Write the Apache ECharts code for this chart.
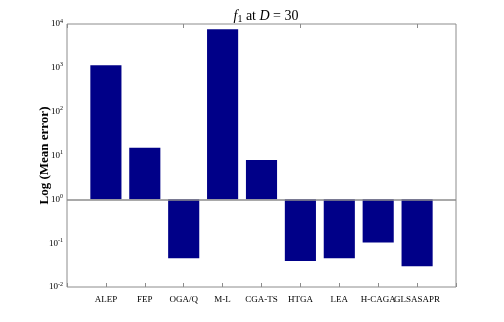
<!DOCTYPE html>
<html>
<head>
<meta charset="utf-8">
<script src="https://cdn.jsdelivr.net/npm/echarts@6/dist/echarts.min.js"></script>
<style>
  html, body { margin: 0; padding: 0; background: #fff; }
  #main { width: 504px; height: 322px; }
</style>
</head>
<body>
<div id="main"></div>
<script>
// categories, padded with an empty slot on each side (bar positions 1..9 on a 0..10 range)
var methods = ["", "ALEP", "FEP", "OGA/Q", "M-L", "CGA-TS", "HTGA", "LEA", "H-CAGA", "GLSASAPR", ""];
var meanError = ["-", 1150, 15, 0.045, 7600, 7.9, 0.039, 0.045, 0.104, 0.0296, "-"];
var decades = [0.01, 0.1, 1, 10, 100, 1000, 10000];

// minor ticks 2..9 inside each decade
var minorTicks = [];
decades.forEach(function (d, i) {
  minorTicks.push(d);
  if (i < decades.length - 1) {
    for (var k = 2; k < 10; k++) minorTicks.push(+(d * k).toPrecision(3));
  }
});

var myChart = echarts.init(document.getElementById("main"));
var serif = "Liberation Serif";
var gray = "#8c8c8c";

var option = {
  animation: false,
  title: {
    text: "{i|f}{sub|1}{t| at }{i|D}{t| = 30}",
    left: 261,
    top: 3,
    textAlign: "center",
    textStyle: {
      fontWeight: "normal",
      rich: {
        i: { fontFamily: serif, fontStyle: "italic", fontWeight: "normal", fontSize: 14, color: "#000" },
        sub: { fontFamily: serif, fontWeight: "normal", fontSize: 10, color: "#000", verticalAlign: "bottom", padding: [6, 0, 0, 0] },
        t: { fontFamily: serif, fontWeight: "normal", fontSize: 14, color: "#000" }
      }
    }
  },
  grid: { left: 67, right: 48, top: 24, bottom: 35, show: true, borderColor: gray, borderWidth: 1 },
  xAxis: [
    {
      type: "category",
      data: methods,
      boundaryGap: false,
      position: "bottom",
      axisLine: { show: false },
      axisTick: { inside: true, length: 4, lineStyle: { color: gray } },
      axisLabel: { fontFamily: serif, fontSize: 9, color: "#000", margin: 8, interval: 0 }
    },
    {
      type: "category",
      data: methods,
      boundaryGap: false,
      position: "top",
      axisLine: { show: false },
      axisTick: { inside: true, length: 4, lineStyle: { color: gray } },
      axisLabel: { show: false }
    }
  ],
  yAxis: [
    {
      type: "log",
      logBase: 10,
      min: 0.01,
      max: 10000,
      splitNumber: 6,
      position: "left",
      name: "Log (Mean error)",
      nameLocation: "middle",
      nameGap: 16,
      nameMoveOverlap: false,
      nameTextStyle: { fontFamily: serif, fontWeight: "bold", fontSize: 13, color: "#000" },
      axisLine: { show: false },
      splitLine: { show: false },
      axisTick: { inside: true, length: 3, customValues: minorTicks, lineStyle: { color: gray } },
      axisLabel: {
        margin: 4,
        formatter: function (v) {
          return "{b|10}{s|" + Math.round(Math.log10(v)) + "}";
        },
        rich: {
          b: { fontFamily: serif, fontSize: 9, color: "#000" },
          s: { fontFamily: serif, fontSize: 6, color: "#000", verticalAlign: "top", padding: [0, 0, 6, 0] }
        }
      }
    },
    {
      type: "log",
      logBase: 10,
      min: 0.01,
      max: 10000,
      splitNumber: 6,
      position: "right",
      axisLine: { show: false },
      splitLine: { show: false },
      axisTick: { inside: true, length: 3, customValues: minorTicks, lineStyle: { color: gray } },
      axisLabel: { show: false }
    }
  ],
  series: [
    {
      type: "bar",
      data: meanError,
      barWidth: "80%",
      itemStyle: { color: "#000088" },
      markLine: {
        silent: true,
        symbol: "none",
        label: { show: false },
        lineStyle: { color: gray, type: "solid", width: 1.5 },
        data: [{ yAxis: 1 }]
      }
    }
  ]
};
myChart.setOption(option);
</script>
</body>
</html>
